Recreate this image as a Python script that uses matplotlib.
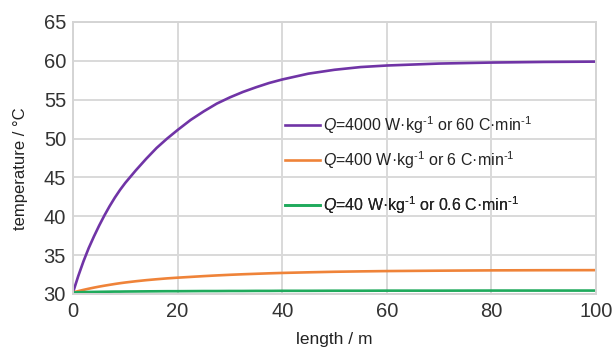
import numpy as np
import matplotlib
matplotlib.use("Agg")
from matplotlib import pyplot as plt
from matplotlib.lines import Line2D

# values
length = [0, 1, 2, 3, 4, 5, 6, 7, 8, 9, 10, 12, 14, 16, 18, 20, 22.5, 25, 27.5, 30, 32.5, 35,
          37.5, 40, 45, 50, 55, 60, 70, 80, 90, 100]
temp_4000 = [30.2, 32.3, 34.2, 35.9, 37.4, 38.8, 40.1, 41.3, 42.4, 43.4, 44.3, 45.9, 47.4, 48.8,
             50.0, 51.1, 52.4, 53.5, 54.5, 55.3, 56.0, 56.6, 57.15, 57.6, 58.35, 58.85, 59.2,
             59.4, 59.65, 59.78, 59.86, 59.9]
temp_400 = [30.2, 30.37, 30.53, 30.68, 30.82, 30.95, 31.07, 31.18, 31.29, 31.39, 31.48, 31.64,
            31.78, 31.9, 32.01, 32.1, 32.2, 32.3, 32.39, 32.47, 32.54, 32.6, 32.66, 32.71, 32.79,
            32.86, 32.91, 32.95, 33.0, 33.04, 33.06, 33.07]
temp_40 = [30.2, 30.22, 30.24, 30.26, 30.27, 30.28, 30.29, 30.3, 30.31, 30.31, 30.32, 30.33,
           30.34, 30.35, 30.36, 30.36, 30.37, 30.38, 30.38, 30.39, 30.39, 30.4, 30.4, 30.41,
           30.41, 30.42, 30.42, 30.43, 30.43, 30.44, 30.44, 30.44]

labels = [r"$Q$=4000 W·kg$^{\text{-1}}$ or 60 C·min$^{\text{-1}}$",
          r"$Q$=400 W·kg$^{\text{-1}}$ or 6 C·min$^{\text{-1}}$",
          r"$Q$=40 W·kg$^{\text{-1}}$ or 0.6 C·min$^{\text{-1}}$"]
colors = ["#7034a6", "#ef8339", "#1faa5c"]

xticks = [0, 20, 40, 60, 80, 100]
yticks = [30, 35, 40, 45, 50, 55, 60, 65]

plt.rcParams['font.family'] = ['Liberation Sans', 'DejaVu Sans']
plt.rcParams['mathtext.fontset'] = 'custom'
plt.rcParams['mathtext.it'] = 'Liberation Sans:italic'
plt.rcParams['mathtext.rm'] = 'Liberation Sans'

fig = plt.figure(figsize=(6.16, 3.49), dpi=100)
ax = fig.add_axes([0.1185, 0.1576, 0.849, 0.7794])

series = [temp_4000, temp_400, temp_40]
for vals, c in zip(series, colors):
    ax.plot(length, vals, color=c, lw=1.9, solid_capstyle='butt', solid_joinstyle='round')

ax.set_xlim(0, 100)
ax.set_ylim(30, 65)
ax.set_xticks(xticks)
ax.set_yticks(yticks)
ax.grid(True, color="#d9d9d9", lw=1.4)
ax.set_axisbelow(True)
for s in ax.spines.values():
    s.set_color("#d4d4d4")
    s.set_linewidth(1.4)
ax.tick_params(length=0, labelsize=14.5, colors="#333333", pad=5)
ax.tick_params(axis='x', pad=6)

ax.set_xlabel("length / m", fontsize=12.5, color="#222222", labelpad=8)
ax.set_ylabel("temperature / °C", fontsize=12, color="#222222")
ax.yaxis.set_label_coords(-0.086, 0.46)

# legend entries placed one by one (gaps are uneven in the reference)
legend_y = [0.621, 0.493, 0.327]
for lab, c, yy in zip(labels, colors, legend_y):
    h = Line2D([], [], color=c, lw=1.9)
    lg = ax.legend([h], [lab], loc='center left', bbox_to_anchor=(0.405, yy), frameon=False,
                   fontsize=11.5, handlelength=2.2, handletextpad=0.2, borderaxespad=0,
                   borderpad=0)
    for t in lg.get_texts():
        t.set_color("#222222")
    ax.add_artist(lg)

fig.savefig("out.png", dpi=100)
